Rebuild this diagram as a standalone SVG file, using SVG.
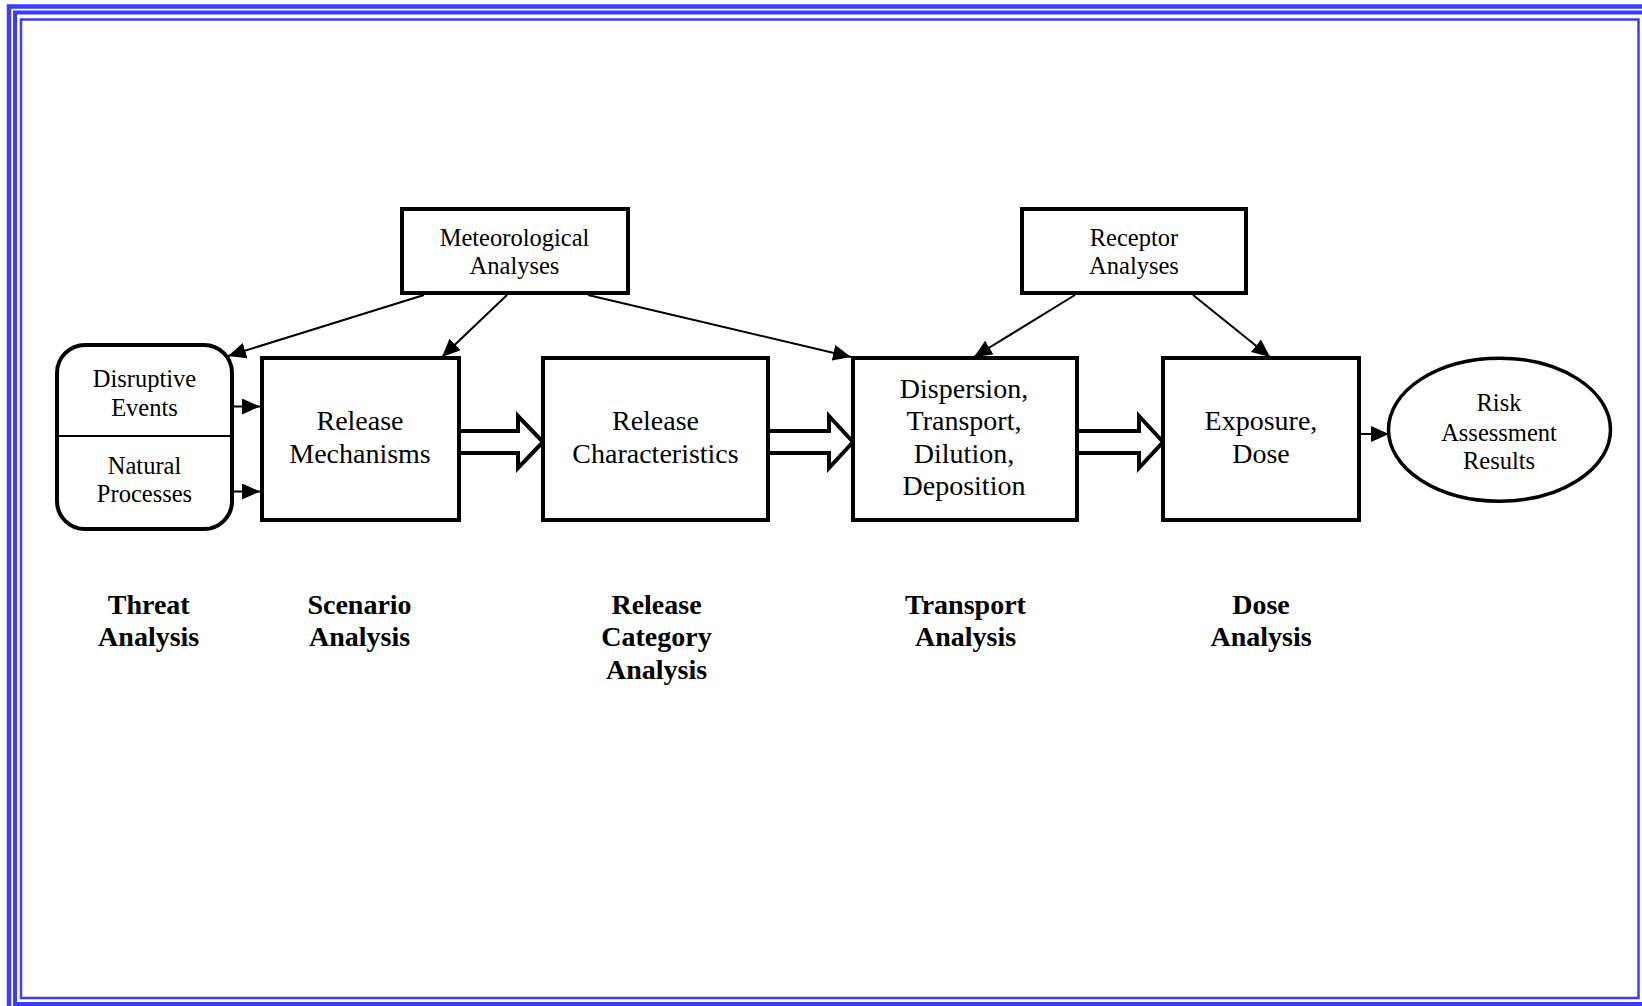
<svg xmlns="http://www.w3.org/2000/svg" width="1642" height="1006" viewBox="0 0 1642 1006">
  <style>
    .frame { fill: none; stroke: #3c3cff; }
    .box { fill: #ffffff; stroke: #000000; stroke-width: 4; }
    .conn { fill: none; stroke: #000000; stroke-width: 2; }
    .hollow { fill: #ffffff; stroke: #000000; stroke-width: 4; stroke-linejoin: miter; }
    .t { font-family: "Liberation Serif", "Times New Roman", serif; fill: #000000; text-anchor: middle; }
    .s { font-size: 24.5px; }
    .l { font-size: 28px; }
    .b { font-size: 28px; font-weight: bold; }
  </style>
  <defs>
    <marker id="ah" markerUnits="userSpaceOnUse" markerWidth="18" markerHeight="16" refX="18" refY="8" orient="auto" viewBox="0 0 18 16">
      <path d="M0,0 L18,8 L0,16 z" fill="#000000"/>
    </marker>
  </defs>
  <rect width="1642" height="1006" fill="#ffffff"/>
  <g id="frame">
    <rect class="frame" x="9" y="6.5" width="1700" height="1100" stroke-width="4.5"/>
    <rect class="frame" x="15" y="12.5" width="1700" height="991.5" stroke-width="4"/>
    <rect class="frame" x="21" y="19.5" width="1617.5" height="978.5" stroke-width="2.5"/>
  </g>

  <g id="connectors">
    <line class="conn" x1="424" y1="295" x2="228" y2="356" marker-end="url(#ah)"/>
    <line class="conn" x1="507" y1="295" x2="442" y2="357" marker-end="url(#ah)"/>
    <line class="conn" x1="588" y1="295" x2="851" y2="357" marker-end="url(#ah)"/>
    <line class="conn" x1="1075" y1="295" x2="974" y2="357" marker-end="url(#ah)"/>
    <line class="conn" x1="1193" y1="295" x2="1270" y2="357" marker-end="url(#ah)"/>
    <line class="conn" x1="233" y1="406.5" x2="260" y2="406.5" marker-end="url(#ah)"/>
    <line class="conn" x1="233" y1="491.5" x2="260" y2="491.5" marker-end="url(#ah)"/>
    <line class="conn" x1="1360" y1="434" x2="1389" y2="434" marker-end="url(#ah)"/>
    <polygon class="hollow" points="459,431 518,431 518,416 543,442 518,468 518,453 459,453"/>
    <polygon class="hollow" points="768,431 829,431 829,416 853,442 829,468 829,453 768,453"/>
    <polygon class="hollow" points="1077,431 1139,431 1139,416 1163,442 1139,468 1139,453 1077,453"/>
  </g>

  <g id="node-meteorological">
    <rect class="box" x="402" y="209" width="226" height="84"/>
    <text class="t s" x="514.5" y="245.5">Meteorological</text>
    <text class="t s" x="514.5" y="274">Analyses</text>
  </g>
  <g id="node-receptor">
    <rect class="box" x="1022" y="209" width="224" height="84"/>
    <text class="t s" x="1134" y="245.5">Receptor</text>
    <text class="t s" x="1134" y="274">Analyses</text>
  </g>
  <g id="node-threat">
    <rect class="box" x="57" y="345" width="175" height="184" rx="28" ry="28"/>
    <line x1="57" y1="436" x2="232" y2="436" stroke="#000000" stroke-width="2"/>
    <text class="t s" x="144.5" y="387">Disruptive</text>
    <text class="t s" x="144.5" y="416">Events</text>
    <text class="t s" x="144.5" y="474">Natural</text>
    <text class="t s" x="144.5" y="502">Processes</text>
  </g>
  <g id="node-release-mechanisms">
    <rect class="box" x="262" y="358" width="197" height="162"/>
    <text class="t l" x="360" y="430.3">Release</text>
    <text class="t l" x="360" y="462.7">Mechanisms</text>
  </g>
  <g id="node-release-characteristics">
    <rect class="box" x="543" y="358" width="225" height="162"/>
    <text class="t l" x="655.5" y="430.3">Release</text>
    <text class="t l" x="655.5" y="462.7">Characteristics</text>
  </g>
  <g id="node-dispersion">
    <rect class="box" x="853" y="358" width="224" height="162"/>
    <text class="t l" x="964" y="397.8">Dispersion,</text>
    <text class="t l" x="964" y="430.3">Transport,</text>
    <text class="t l" x="964" y="462.7">Dilution,</text>
    <text class="t l" x="964" y="495.3">Deposition</text>
  </g>
  <g id="node-exposure">
    <rect class="box" x="1163" y="358" width="196" height="162"/>
    <text class="t l" x="1261" y="430.3">Exposure,</text>
    <text class="t l" x="1261" y="462.7">Dose</text>
  </g>
  <g id="node-risk">
    <ellipse cx="1499.5" cy="429.7" rx="111" ry="71.5" fill="#ffffff" stroke="#000000" stroke-width="3.5"/>
    <text class="t s" x="1499" y="411">Risk</text>
    <text class="t s" x="1499" y="440.5">Assessment</text>
    <text class="t s" x="1499" y="468.8">Results</text>
  </g>

  <g id="labels">
    <text class="t b" x="148.7" y="613.5">Threat</text>
    <text class="t b" x="148.7" y="646">Analysis</text>
    <text class="t b" x="359.5" y="613.5">Scenario</text>
    <text class="t b" x="359.5" y="646">Analysis</text>
    <text class="t b" x="656.5" y="613.5">Release</text>
    <text class="t b" x="656.5" y="646">Category</text>
    <text class="t b" x="656.5" y="678.5">Analysis</text>
    <text class="t b" x="965.5" y="613.5">Transport</text>
    <text class="t b" x="965.5" y="646">Analysis</text>
    <text class="t b" x="1261" y="613.5">Dose</text>
    <text class="t b" x="1261" y="646">Analysis</text>
  </g>
</svg>
